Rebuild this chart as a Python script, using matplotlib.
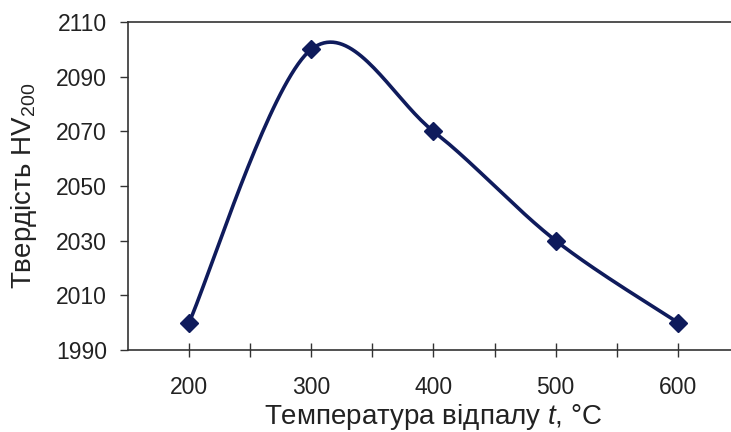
import numpy as np
import matplotlib
matplotlib.use('Agg')
import matplotlib.pyplot as plt

plt.rcParams['font.family'] = ['Liberation Sans', 'DejaVu Sans']
plt.rcParams['mathtext.fontset'] = 'custom'
plt.rcParams['mathtext.rm'] = 'Liberation Sans'
plt.rcParams['mathtext.it'] = 'Liberation Sans:italic'

temps = [200, 300, 400, 500, 600]
hardness = [2000, 2100, 2070, 2030, 2000]
xticks = [200, 300, 400, 500, 600]
yticks = [1990, 2010, 2030, 2050, 2070, 2090, 2110]

navy = '#0f1b5c'


def smooth(x, y, n=40):
    # Excel-like smoothing: cubic Bezier with Catmull-Rom control points
    x = np.asarray(x, float)
    y = np.asarray(y, float)
    px = np.concatenate([[x[0]], x, [x[-1]]])
    py = np.concatenate([[y[0]], y, [y[-1]]])
    xs, ys = [], []
    t = np.linspace(0, 1, n)
    for i in range(1, len(px) - 2):
        p0 = np.array([px[i], py[i]])
        p3 = np.array([px[i + 1], py[i + 1]])
        c1 = p0 + (np.array([px[i + 1], py[i + 1]]) - np.array([px[i - 1], py[i - 1]])) / 6
        c2 = p3 - (np.array([px[i + 2], py[i + 2]]) - np.array([px[i], py[i]])) / 6
        b = ((1 - t) ** 3)[:, None] * p0 + (3 * t * (1 - t) ** 2)[:, None] * c1 \
            + (3 * t ** 2 * (1 - t))[:, None] * c2 + (t ** 3)[:, None] * p3
        xs.extend(b[:, 0])
        ys.extend(b[:, 1])
    return xs, ys


fig = plt.figure(figsize=(7.31, 4.32), dpi=100)
ax = fig.add_axes([0.175, 0.190, 0.836, 0.759])

sx, sy = smooth(temps, hardness)
ax.plot(sx, sy, color=navy, lw=2.6, solid_capstyle='round')
ax.plot(temps, hardness, 'D', color=navy, markersize=9, linestyle='none')

ax.set_xlim(150, 650)
ax.set_ylim(1990, 2110)
ax.set_xticks(xticks)
ax.set_xticklabels([str(v) for v in xticks])
ax.set_xticks([250, 350, 450, 550], minor=True)
ax.tick_params(axis='x', which='both', direction='inout', length=10, width=1, color='#333333')
ax.tick_params(axis='x', which='major', labelsize=16.5, pad=14, labelcolor='#222222')
ax.set_yticks(yticks)
ax.tick_params(axis='y', direction='out', length=6, width=1, color='#333333', labelsize=16.5, pad=9,
               labelcolor='#222222')

for s in ['left', 'bottom', 'top']:
    ax.spines[s].set_color('#333333')
    ax.spines[s].set_linewidth(1.2)
ax.spines['right'].set_visible(False)

ax.set_xlabel('Температура відпалу $\\it{t}$, °C', fontsize=20, labelpad=2, color='#222222')
ax.set_ylabel('Твердість HV$_{\\mathrm{200}}$', fontsize=20, labelpad=12, color='#222222')

fig.savefig('out.png', dpi=100)
